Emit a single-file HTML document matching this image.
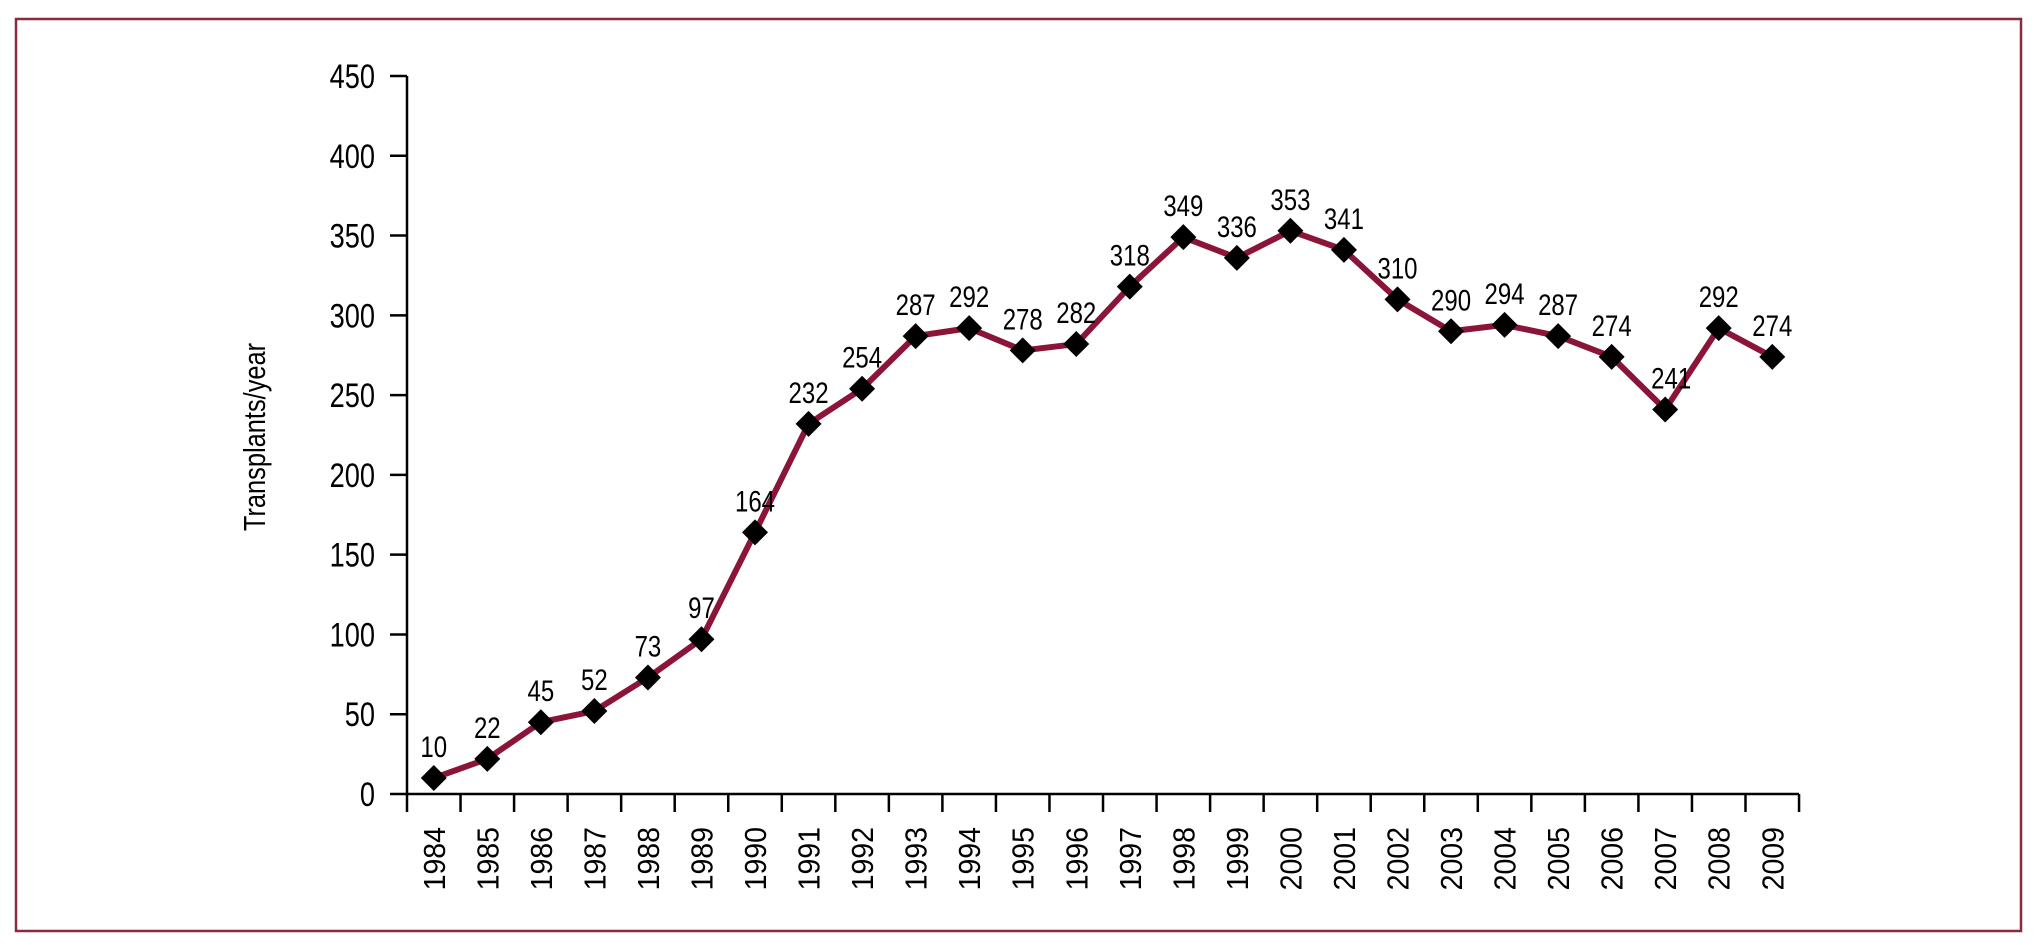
<!DOCTYPE html>
<html><head><meta charset="utf-8"><style>
html,body{margin:0;padding:0;background:#fff;}
svg{display:block;font-family:"Liberation Sans",sans-serif;}
</style></head><body>
<svg id="chart" width="2037" height="945" viewBox="0 0 2037 945" xmlns="http://www.w3.org/2000/svg">
<rect x="16" y="19" width="2005" height="912" fill="#fff" stroke="#8b2a3e" stroke-width="2.5"/>
<g id="axes"></g>
<g id="series"></g>
</svg>
<script>
const years = ["1984","1985","1986","1987","1988","1989","1990","1991","1992","1993","1994","1995","1996","1997","1998","1999","2000","2001","2002","2003","2004","2005","2006","2007","2008","2009"];
const transplants = [10,22,45,52,73,97,164,232,254,287,292,278,282,318,349,336,353,341,310,290,294,287,274,241,292,274];
const yTicks = [0,50,100,150,200,250,300,350,400,450];

const NS = "http://www.w3.org/2000/svg";
const X0 = 407, BAND = 53.54, Y0 = 794, YTOP = 76, YMAX = 450;
function xBand(i){ return X0 + i*BAND; }
function xPoint(i){ return X0 + (i+0.5)*BAND; }
function yScale(v){ return Y0 - v/YMAX*(Y0-YTOP); }
function mk(tag, attrs, parent){
  const e = document.createElementNS(NS, tag);
  for (const k in attrs) e.setAttribute(k, attrs[k]);
  parent.appendChild(e);
  return e;
}
const axes = document.getElementById('axes');
const series = document.getElementById('series');

let yl = mk('line', {x1:X0, y1:YTOP, x2:X0, y2:Y0, stroke:'#000', 'stroke-width':2.5}, axes);


yTicks.forEach(v => {
  const y = yScale(v);
  const t = mk('line', {x1:390, y1:y, x2:X0, y2:y, stroke:'#000', 'stroke-width':2.5}, axes);
  
  
  const lb = mk('text', {transform:'translate(375,'+(y+12)+') scale(0.8,1)', 'text-anchor':'end', 'font-size':34, fill:'#000'}, axes);
  lb.textContent = v;
  
  
});
const yt = mk('text', {transform:'translate(265,437) rotate(-90) scale(0.82,1)', 'text-anchor':'middle', 'font-size':31, fill:'#000'}, axes);
yt.textContent = 'Transplants/year';



const xEnd = xBand(years.length);
let xl = mk('line', {x1:X0, y1:Y0, x2:xEnd, y2:Y0, stroke:'#000', 'stroke-width':2.5}, axes);


for (let i=0;i<=years.length;i++){
  const x = xBand(i);
  const t = mk('line', {x1:x, y1:Y0, x2:x, y2:812, stroke:'#000', 'stroke-width':2.5}, axes);
  
  
}
years.forEach((yr,i) => {
  const x = xBand(i) + BAND/2;
  const lb = mk('text', {transform:'translate('+(x+11)+',827) rotate(-90) scale(0.92,1)', 'text-anchor':'end', 'font-size':31, fill:'#000'}, axes);
  lb.textContent = yr;
  
  
});

const pts = transplants.map((v,i) => xPoint(i)+','+yScale(v)).join(' ');
const pl = mk('polyline', {points:pts, fill:'none', stroke:'#8b1538', 'stroke-width':6, 'stroke-linejoin':'round'}, series);


transplants.forEach((v,i) => {
  const x = xPoint(i), y = yScale(v), r = 13;
  const m = mk('polygon', {points:(x)+','+(y-r)+' '+(x+r)+','+y+' '+x+','+(y+r)+' '+(x-r)+','+y, fill:'#000'}, series);
  
  
  const dx = (years[i]==='2007') ? 6 : 0;
  const lb = mk('text', {transform:'translate('+(x+dx)+','+(y-21)+') scale(0.8,1)', 'text-anchor':'middle', 'font-size':30, fill:'#000'}, series);
  lb.textContent = v;
  
  
});
</script>
</body></html>
